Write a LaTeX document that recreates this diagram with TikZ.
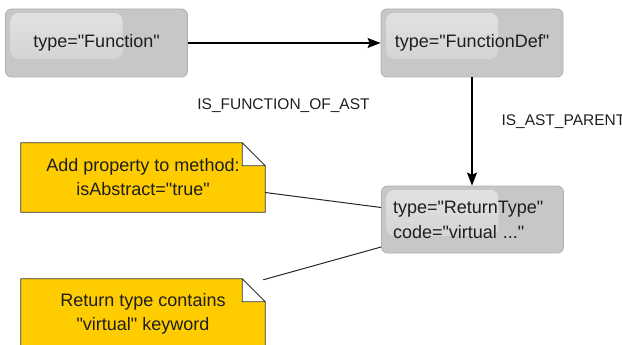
\documentclass[tikz,border=0pt]{standalone}
\usepackage{fontspec}
\setmainfont{Liberation Sans}[Ligatures=TeXOff]
\usetikzlibrary{arrows.meta,calc,backgrounds}
\definecolor{boxgray}{RGB}{199,199,199}
\definecolor{boxedge}{RGB}{176,176,176}
\definecolor{glosstop}{RGB}{226,226,226}
\definecolor{notefill}{RGB}{255,204,0}
\definecolor{inktext}{RGB}{30,30,30}

\begin{document}
\begin{tikzpicture}[x=1pt,y=-1pt,
  entity/.style={draw=boxedge, line width=0.8pt, fill=boxgray, rounded corners=6pt,
    minimum width=182pt, minimum height=68pt, inner sep=0pt, text=inktext,
    font=\fontsize{18}{25}\selectfont,
    path picture={\shade[top color=glosstop, bottom color=boxgray!85!white, rounded corners=8pt]
      ($(path picture bounding box.north west)+(5,4)$) rectangle ++(112,46);}},
  note/.style={minimum width=244pt, inner sep=0pt, align=center, text=inktext,
    font=\fontsize{18}{24}\selectfont},
  notepaper/.style={fill=notefill, draw=black!80, line width=0.8pt},
  notefold/.style={fill=white, draw=black!80, line width=0.8pt, line join=round},
  edgelabel/.style={font=\fontsize{15.5}{18}\selectfont, text=inktext},
  link/.style={line width=1.2pt, -{Stealth[length=13pt,width=10pt,inset=2pt]}},
  reference/.style={line width=1pt, draw=black!85}
]
\useasboundingbox (0,0) rectangle (622,345);
\clip (0,0) rectangle (622,345);

% entity boxes
\node[entity] (fn) at (96.5,43) {type="Function"};
\node[entity] (fd) at (472,43) {type="FunctionDef"};
\node[entity, minimum height=67pt, text width=159pt, align=left] (rt) at (472.5,219.5)
  {type="ReturnType"\\code="virtual ..."};

% relationship arrows and their labels
\draw[link] (fn) -- (fd);
\draw[link] (fd.south) -- (fd.south |- rt.north);
\node[edgelabel] (l1) at (283.5,105.5) {IS\_FUNCTION\_OF\_AST};
\node[edgelabel, anchor=west] (l2) at (498,122) {IS\_AST\_PARENT};

% comment notes
\node[note, minimum height=69pt] (n1) at (143,177.5) {Add property to method:\\isAbstract="true"};
\node[note, minimum height=70pt] (n2) at (143,314) {Return type contains\\"virtual" keyword};

\begin{scope}[on background layer]
  \foreach \n in {n1,n2}{
    \path[notepaper] (\n.north west) -- ($(\n.north east)+(-23,0)$) -- ($(\n.north east)+(0,23)$)
      -- (\n.south east) -- (\n.south west) -- cycle;
    \path[notefold] ($(\n.north east)+(-23,0)$) -- ($(\n.north east)+(-23,23)$)
      -- ($(\n.north east)+(0,23)$) -- cycle;
  }
\end{scope}

% notes attached to the return type node
\draw[reference] ($(n1.east)+(0,15)$) -- ($(rt.west)+(0,-12)$);
\draw[reference] ($(n2.north east)+(-2,1)$) -- ($(rt.west)+(0,27.5)$);
\end{tikzpicture}
\end{document}
